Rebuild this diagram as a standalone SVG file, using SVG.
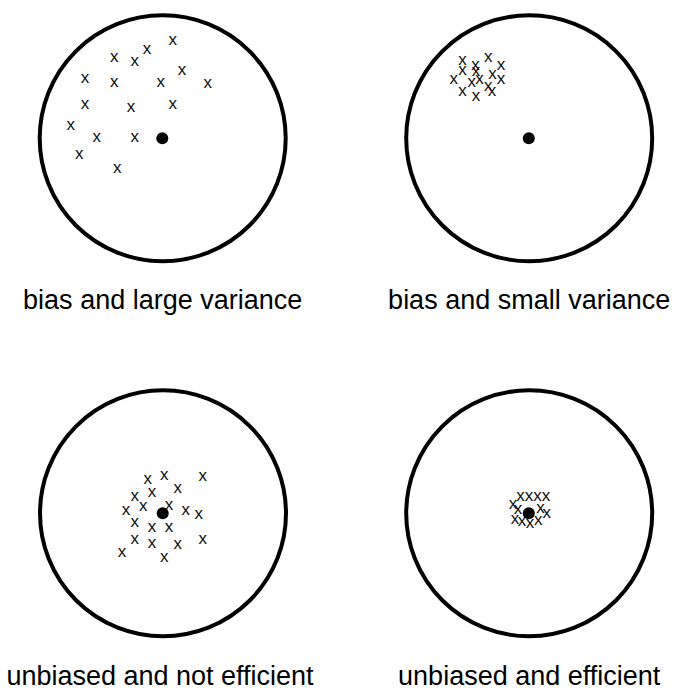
<svg xmlns="http://www.w3.org/2000/svg" width="673" height="690" viewBox="0 0 673 690">
<style>
.ring{fill:none;stroke:#000;stroke-width:4}
.dot{fill:#000}
.x{font-family:"Liberation Sans",Arial,sans-serif;font-size:17px;text-anchor:middle;fill:#111}
.lbl{font-family:"Liberation Sans",Arial,sans-serif;font-size:27px;text-anchor:middle;fill:#000}
</style>
<rect width="673" height="690" fill="#fff"/>
<g id="panel-bias-large">
<circle class="ring" cx="162.7" cy="138.3" r="123"/>
<circle class="dot" cx="162.3" cy="138.3" r="6"/>
<g class="x">
<text x="172.7" y="45.1">x</text>
<text x="147" y="53.7">x</text>
<text x="114.3" y="62.1">x</text>
<text x="134.7" y="66.1">x</text>
<text x="182" y="74.7">x</text>
<text x="85" y="83.4">x</text>
<text x="114.3" y="86.7">x</text>
<text x="160.7" y="87.1">x</text>
<text x="207.7" y="87.7">x</text>
<text x="85" y="108.7">x</text>
<text x="131" y="112.1">x</text>
<text x="172.7" y="108.7">x</text>
<text x="70.7" y="130.1">x</text>
<text x="96.7" y="142.1">x</text>
<text x="134.7" y="142.1">x</text>
<text x="79.3" y="159.4">x</text>
<text x="117.3" y="173.1">x</text>
</g>
<text class="lbl" x="162.7" y="309">bias and large variance</text>
</g>
<g id="panel-bias-small">
<circle class="ring" cx="529.2" cy="138.3" r="123"/>
<circle class="dot" cx="528.8" cy="138.3" r="6"/>
<g class="x">
<text x="462.5" y="65.4">x</text>
<text x="488.3" y="61.7">x</text>
<text x="475.5" y="69.8">x</text>
<text x="501" y="70.1">x</text>
<text x="462.5" y="75.1">x</text>
<text x="476" y="76.4">x</text>
<text x="453.7" y="83.6">x</text>
<text x="471.7" y="86.7">x</text>
<text x="479.6" y="83.6">x</text>
<text x="492.5" y="79.4">x</text>
<text x="501" y="83.7">x</text>
<text x="462.5" y="96.1">x</text>
<text x="476" y="100.9">x</text>
<text x="488.3" y="91.4">x</text>
<text x="492" y="95.8">x</text>
</g>
<text class="lbl" x="529.2" y="309">bias and small variance</text>
</g>
<g id="panel-unbiased-not-efficient">
<circle class="ring" cx="163" cy="513.3" r="123"/>
<circle class="dot" cx="162.7" cy="513.3" r="6"/>
<g class="x">
<text x="147.7" y="484.4">x</text>
<text x="164.3" y="480.1">x</text>
<text x="202.7" y="481.1">x</text>
<text x="177.7" y="493.4">x</text>
<text x="152" y="497.4">x</text>
<text x="134.7" y="501.4">x</text>
<text x="143.3" y="510.7">x</text>
<text x="126" y="514.7">x</text>
<text x="169" y="510.1">x</text>
<text x="185.7" y="514.7">x</text>
<text x="198.7" y="518.7">x</text>
<text x="134.7" y="526.7">x</text>
<text x="152" y="532.4">x</text>
<text x="169" y="532.1">x</text>
<text x="134.7" y="544.1">x</text>
<text x="152" y="548.1">x</text>
<text x="177.7" y="548.7">x</text>
<text x="202.7" y="543.7">x</text>
<text x="122" y="557.1">x</text>
<text x="164.3" y="561.7">x</text>
</g>
<text class="lbl" x="160" y="685">unbiased and not efficient</text>
</g>
<g id="panel-unbiased-efficient">
<circle class="ring" cx="529.2" cy="513.3" r="123"/>
<circle class="dot" cx="528.8" cy="513.3" r="6"/>
<g class="x">
<text x="520.5" y="501.4">x</text>
<text x="529" y="501.4">x</text>
<text x="537.5" y="501.4">x</text>
<text x="546" y="501.4">x</text>
<text x="513" y="509.1">x</text>
<text x="518" y="514.1">x</text>
<text x="540.5" y="513.1">x</text>
<text x="546.7" y="517.9">x</text>
<text x="515" y="523.9">x</text>
<text x="522" y="525.5">x</text>
<text x="530" y="527.5">x</text>
<text x="538.3" y="524.5">x</text>
</g>
<text class="lbl" x="529.2" y="685">unbiased and efficient</text>
</g>
</svg>
